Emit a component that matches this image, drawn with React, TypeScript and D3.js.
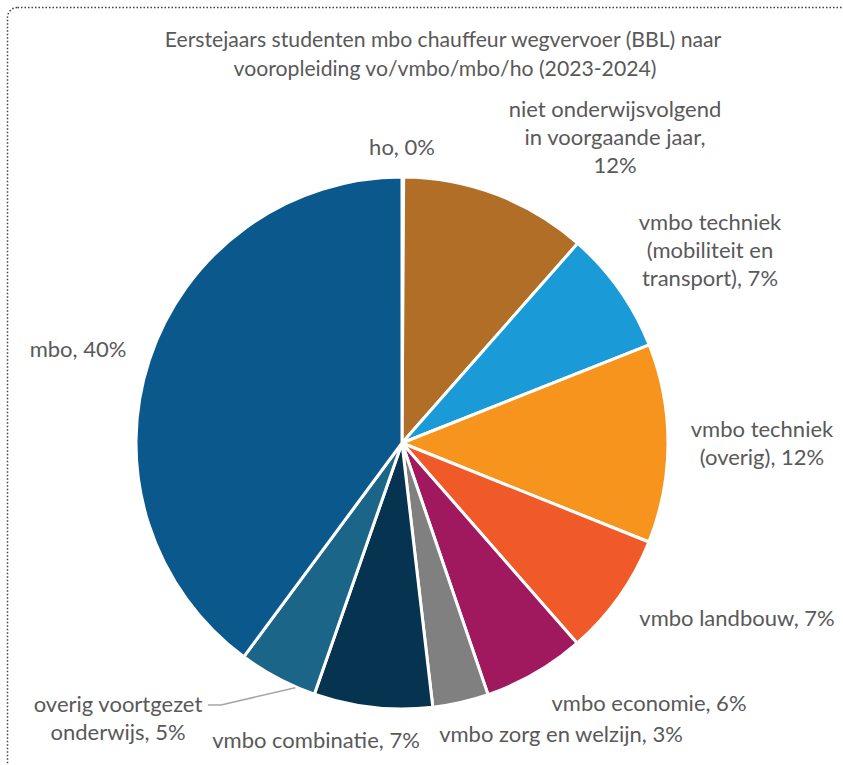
import React, { useEffect, useRef } from 'react'
import * as d3 from 'd3'

const categories = [
  'ho',
  'niet onderwijsvolgend in voorgaande jaar',
  'vmbo techniek (mobiliteit en transport)',
  'vmbo techniek (overig)',
  'vmbo landbouw',
  'vmbo economie',
  'vmbo zorg en welzijn',
  'vmbo combinatie',
  'overig voortgezet onderwijs',
  'mbo',
]
const shares = [0.1, 11.4, 7.5, 12.1, 7.5, 6.2, 3.4, 7.2, 4.8, 39.9]
const percentLabels = ['0%', '12%', '7%', '12%', '7%', '6%', '3%', '7%', '5%', '40%']
const colors = [
  '#2E75B6', '#B06E27', '#1A9BD7', '#F7941D', '#F05A28',
  '#A0195F', '#808080', '#063350', '#1B6589', '#0B598C',
]

// label text lines, as Excel wrapped them
const labelLines = [
  ['ho, 0%'],
  ['niet onderwijsvolgend', 'in voorgaande jaar,', '12%'],
  ['vmbo techniek', '(mobiliteit en', 'transport), 7%'],
  ['vmbo techniek', '(overig), 12%'],
  ['vmbo landbouw, 7%'],
  ['vmbo economie, 6%'],
  ['vmbo zorg en welzijn, 3%'],
  ['vmbo combinatie, 7%'],
  ['overig voortgezet', 'onderwijs, 5%'],
  ['mbo, 40%'],
]
// label anchor: centre x, first baseline (layout, not data)
const labelPos: [number, number][] = [
  [402, 155], [615, 117], [710, 230], [762, 437], [737, 626],
  [649, 711], [561, 742], [316, 748], [118, 712], [78, 357],
]

const width = 843
const height = 765
const cx = 402
const cy = 443
const radius = 266
const font = "Lato, 'Open Sans', sans-serif"
const fontSize = '22px'
const textColor = '#595959'

export default function App() {
  const ref = useRef<SVGSVGElement | null>(null)
  useEffect(() => {
    if (!ref.current) return
    const svg = d3.select(ref.current)
    svg.selectAll('*').remove()

    svg.append('rect')
      .attr('width', width).attr('height', height).attr('fill', '#fff')

    // dotted frame, runs off the right and bottom
    svg.append('rect')
      .attr('x', 7.5).attr('y', 7.5)
      .attr('width', 860).attr('height', 800)
      .attr('rx', 10)
      .attr('fill', 'none')
      .attr('stroke', '#404040')
      .attr('stroke-width', 1.5)
      .attr('stroke-dasharray', '1.5 2')

    const title = svg.append('text')
      .attr('text-anchor', 'middle')
      .attr('fill', textColor)
      .style('font-family', font)
      .style('font-size', '21.2px')
    title.append('tspan').attr('x', 443).attr('y', 47)
      .text('Eerstejaars studenten mbo chauffeur wegvervoer (BBL) naar')
    title.append('tspan').attr('x', 445).attr('y', 76)
      .text('vooropleiding vo/vmbo/mbo/ho (2023-2024)')

    const pie = d3.pie<number>().sort(null).value((d) => d)
    const arcs = pie(shares)
    const arc = d3.arc<d3.PieArcDatum<number>>().innerRadius(0).outerRadius(radius)

    const g = svg.append('g').attr('transform', `translate(${cx},${cy})`)
    g.selectAll('path')
      .data(arcs)
      .join('path')
      .attr('d', arc)
      .attr('fill', (_, i) => colors[i])
      .attr('stroke', '#fff')
      .attr('stroke-width', 3)
      .attr('stroke-linejoin', 'round')

    // leader line for overig voortgezet onderwijs
    const a8 = arcs[8]
    const ang = a8.startAngle + (a8.endAngle - a8.startAngle) * 0.25
    const ex = cx + Math.sin(ang) * (radius + 1)
    const ey = cy - Math.cos(ang) * (radius + 1)
    const lp = labelPos[8]
    svg.append('polyline')
      .attr('points', `${lp[0] + 90},${lp[1] - 7} ${lp[0] + 103},${lp[1] - 7} ${ex},${ey}`)
      .attr('fill', 'none')
      .attr('stroke', '#A6A6A6')
      .attr('stroke-width', 1.5)

    const lineH = 28
    labelLines.forEach((lines, i) => {
      const [x, y] = labelPos[i]
      const t = svg.append('text')
        .attr('text-anchor', 'middle')
        .attr('fill', textColor)
        .style('font-family', font)
        .style('font-size', fontSize)
      lines.forEach((ln, j) => {
        t.append('tspan').attr('x', x).attr('y', y + j * lineH).text(ln)
      })
    })
  }, [])

  return (
    <svg
      ref={ref}
      width={width}
      height={height}
      style={{ position: 'absolute', left: 0, top: 0, display: 'block' }}
      role="img"
      aria-label={`${categories.length} categories: ${percentLabels.join(', ')}`}
    />
  )
}
